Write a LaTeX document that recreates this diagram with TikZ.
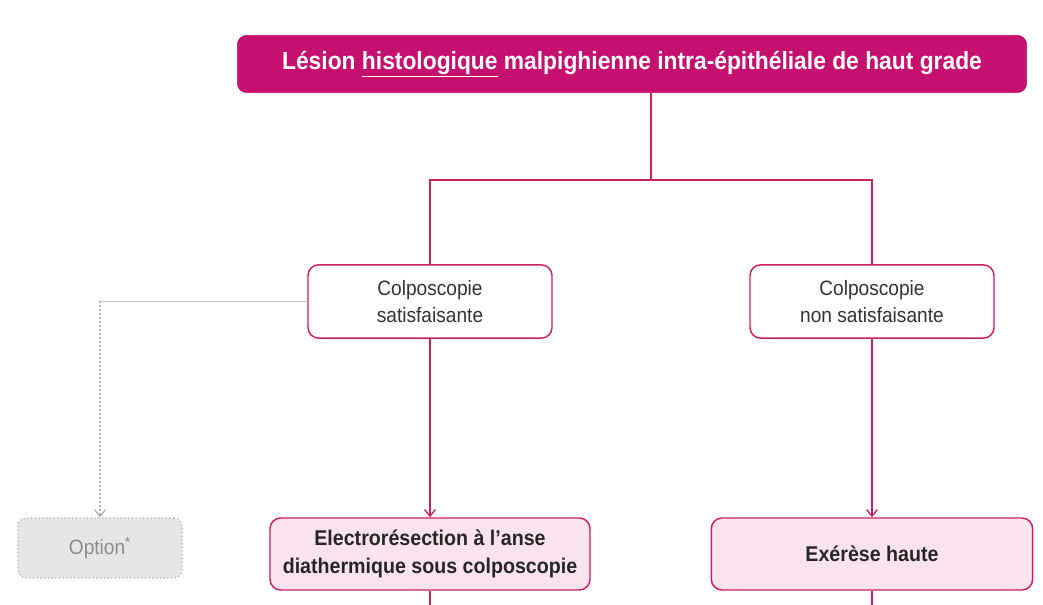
\documentclass[tikz,border=0pt]{standalone}
\usepackage{fontspec}
\setmainfont{Liberation Sans}[FakeStretch=0.92]
\usetikzlibrary{positioning,arrows,arrows.meta,calc}

\definecolor{lesionpink}{HTML}{C5106F}
\definecolor{edgepink}{HTML}{CC1E62}
\definecolor{softpink}{HTML}{FBE3EE}
\definecolor{optgray}{HTML}{E6E6E6}

\tikzset{
	headbox/.style={draw=lesionpink, fill=lesionpink, rounded corners=7pt, text=white, font=\fontsize{18.6}{22}\selectfont\bfseries, minimum width=592pt, minimum height=43pt},
	colpobox/.style={draw=edgepink, line width=1.1pt, fill=white, rounded corners=8pt, align=center, text=black!80, font=\fontsize{15.6}{20.5}\selectfont, minimum width=183pt, minimum height=55pt},
	actbox/.style={draw=edgepink, line width=1.1pt, fill=softpink, rounded corners=8pt, align=center, text=black!85, font=\fontsize{16}{21}\selectfont\bfseries, minimum width=240pt, minimum height=54pt},
	optbox/.style={draw=gray!70, dotted, line width=0.8pt, fill=optgray, rounded corners=6pt, text=gray!90, font=\fontsize{15.6}{18}\selectfont, minimum width=123pt, minimum height=45pt},
	link/.style={draw=edgepink, line width=1pt},
	tip/.style={-{Straight Barb[length=5pt,width=8pt]}},
}

\begin{document}
\begin{tikzpicture}[x=0.75pt,y=-0.75pt]
	\useasboundingbox (0,0) rectangle (1043,605);

	\node[headbox] (lesion) at (632,64) {Lésion \underline{histologique} malpighienne intra-épithéliale de haut grade};

	\node[colpobox] (sat) at (430,301.5) {Colposcopie\\satisfaisante};
	\node[colpobox] (nonsat) at (872,301.5) {Colposcopie\\non satisfaisante};

	\node[optbox] (option) at (100,548) {Option\textsuperscript{*}};
	\node[actbox] (elec) at (430,554) {Electrorésection à l'anse\\diathermique sous colposcopie};
	\node[actbox, minimum width=241pt] (exer) at (872,554) {Exérèse haute};

	\coordinate (split) at (651,180);
	\coordinate (elecend) at (430,605);
	\coordinate (exerend) at (872,605);

	% branches from the header
	\draw[link] (lesion.south -| split) -- (split);
	\draw[link] (sat.north) |- (split) -| (nonsat.north);

	% downward arrows
	\draw[link, tip] (sat.south) -- (elec.north);
	\draw[link, tip] (nonsat.south) -- (exer.north);
	\draw[link] (elec.south) -- (elecend);
	\draw[link] (exer.south) -- (exerend);

	% optional branch
	\draw[gray!50, line width=1pt] (sat.west) -- (sat.west -| option.north);
	\draw[gray!60, dotted, line width=1pt, tip] (sat.west -| option.north) -- (option.north);
\end{tikzpicture}
\end{document}
